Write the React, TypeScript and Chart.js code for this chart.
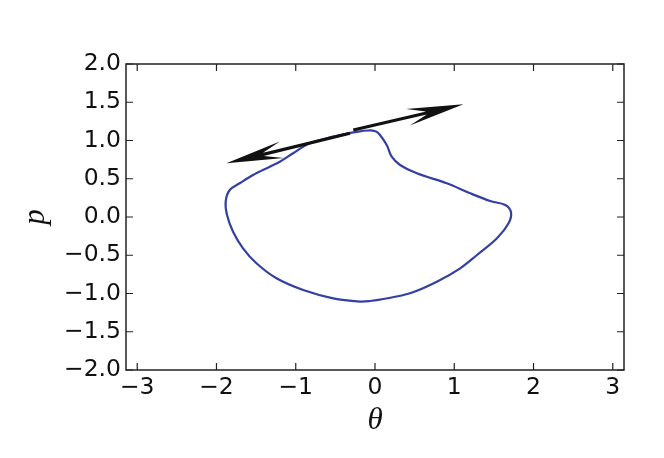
import React, { useEffect, useRef } from "react";
import { Chart, registerables } from "chart.js";

Chart.register(...registerables);

// Closed trajectory in phase space (theta, p)
const thetaValues = [
  -0.274, -0.088, 0.013, 0.063, 0.148, 0.211, 0.316, 0.527, 0.906, 1.201, 1.454, 1.643,
  1.716, 1.685, 1.539, 1.286, 1.075, 0.78, 0.442, 0.105, -0.063, -0.19, -0.527, -0.906,
  -1.243, -1.496, -1.665, -1.791, -1.867, -1.884, -1.833, -1.707, -1.539, -1.327, -1.201,
  -1.033, -0.822, -0.527, -0.274,
];
const pValues = [
  1.107, 1.131, 1.118, 1.072, 0.941, 0.788, 0.68, 0.571, 0.441, 0.31, 0.209, 0.157,
  0.061, -0.082, -0.278, -0.497, -0.671, -0.846, -0.997, -1.072, -1.098, -1.105, -1.063,
  -0.954, -0.801, -0.605, -0.409, -0.192, 0.026, 0.2, 0.353, 0.441, 0.549, 0.658, 0.723,
  0.833, 0.963, 1.05, 1.107,
];

// Two quiver-style arrows (tail -> tip)
const arrowTailTheta = [-0.316, -0.274];
const arrowTailP = [1.094, 1.137];
const arrowTipTheta = [-1.875, 1.116];
const arrowTipP = [0.702, 1.473];

const xTicks = [-3, -2, -1, 0, 1, 2, 3];
const yTicks = [-2.0, -1.5, -1.0, -0.5, 0.0, 0.5, 1.0, 1.5, 2.0];
const xMin = -Math.PI;
const xMax = Math.PI;
const yMin = -2;
const yMax = 2;

const minus = (s: string) => s.replace("-", "\u2212");

const framePlugin = {
  id: "frameTicksArrows",
  afterDatasetsDraw(chart: any) {
    const { ctx, chartArea, scales } = chart;
    const xs = scales.x;
    const ys = scales.y;
    ctx.save();
    // arrows
    ctx.fillStyle = "#111111";
    for (let i = 0; i < arrowTailTheta.length; i++) {
      const x0 = xs.getPixelForValue(arrowTailTheta[i]);
      const y0 = ys.getPixelForValue(arrowTailP[i]);
      const x1 = xs.getPixelForValue(arrowTipTheta[i]);
      const y1 = ys.getPixelForValue(arrowTipP[i]);
      const len = Math.hypot(x1 - x0, y1 - y0);
      const dx = (x1 - x0) / len;
      const dy = (y1 - y0) / len;
      const nx = -dy;
      const ny = dx;
      const hw = 1.6;
      const HL = 57;
      const HW = 8.5;
      const J = 38;
      const pt = (back: number, side: number) => [x1 - dx * back + nx * side, y1 - dy * back + ny * side];
      const poly = [
        [x0 + nx * hw, y0 + ny * hw],
        pt(J, hw),
        pt(HL, HW),
        [x1, y1],
        pt(HL, -HW),
        pt(J, -hw),
        [x0 - nx * hw, y0 - ny * hw],
      ];
      ctx.beginPath();
      ctx.moveTo(poly[0][0], poly[0][1]);
      for (let k = 1; k < poly.length; k++) ctx.lineTo(poly[k][0], poly[k][1]);
      ctx.closePath();
      ctx.fill();
    }
    // frame
    const { left, right, top, bottom } = chartArea;
    ctx.strokeStyle = "#222222";
    ctx.lineWidth = 1.5;
    ctx.strokeRect(left, top, right - left, bottom - top);
    // inward ticks
    ctx.lineWidth = 1.2;
    const tl = 7;
    ctx.beginPath();
    xTicks.forEach((v) => {
      const px = xs.getPixelForValue(v);
      ctx.moveTo(px, bottom);
      ctx.lineTo(px, bottom - tl);
      ctx.moveTo(px, top);
      ctx.lineTo(px, top + tl);
    });
    yTicks.forEach((v) => {
      const py = ys.getPixelForValue(v);
      ctx.moveTo(left, py);
      ctx.lineTo(left + tl, py);
      ctx.moveTo(right, py);
      ctx.lineTo(right - tl, py);
    });
    ctx.stroke();
    ctx.restore();
  },
};

export default function App() {
  const ref = useRef<HTMLCanvasElement | null>(null);
  useEffect(() => {
    if (!ref.current) return;
    const points = thetaValues.map((t, i) => ({ x: t, y: pValues[i] }));
    const tickFont = { family: "'DejaVu Sans', sans-serif", size: 23.5 };
    const chart = new Chart(ref.current, {
      type: "scatter",
      data: {
        datasets: [
          {
            data: points,
            showLine: true,
            borderColor: "#343fa3",
            borderWidth: 2.2,
            pointRadius: 0,
            tension: 0.35,
            fill: false,
          },
        ],
      },
      options: {
        responsive: false,
        animation: false,
        devicePixelRatio: 1,
        layout: { padding: { top: 64, right: 40, left: 0, bottom: 0 } },
        plugins: { legend: { display: false }, tooltip: { enabled: false } },
        scales: {
          x: {
            type: "linear",
            min: xMin,
            max: xMax,
            grid: { display: false, drawTicks: false },
            border: { display: false },
            afterBuildTicks: (s: any) => {
              s.ticks = xTicks.map((v) => ({ value: v }));
            },
            afterFit: (s: any) => {
              s.height = 88;
            },
            ticks: {
              autoSkip: false,
              maxRotation: 0,
              padding: 4,
              color: "#111111",
              font: tickFont,
              callback: (v: any) => minus(String(v)),
            },
            title: {
              display: true,
              text: "θ",
              color: "#111111",
              font: { family: "'Liberation Serif', serif", size: 31, style: "italic" },
              padding: { top: 0, bottom: 19 },
            },
          },
          y: {
            type: "linear",
            min: yMin,
            max: yMax,
            grid: { display: false, drawTicks: false },
            border: { display: false },
            afterBuildTicks: (s: any) => {
              s.ticks = yTicks.map((v) => ({ value: v }));
            },
            afterFit: (s: any) => {
              s.width = 126;
            },
            ticks: {
              autoSkip: false,
              padding: 5,
              color: "#111111",
              font: tickFont,
              callback: (v: any) => minus(Number(v).toFixed(1)),
            },
            title: {
              display: true,
              text: "p",
              color: "#111111",
              font: { family: "'Liberation Serif', serif", size: 31, style: "italic" },
              padding: { top: 17, bottom: 0 },
            },
          },
        },
      },
      plugins: [framePlugin],
    } as any);
    return () => chart.destroy();
  }, []);
  return (
    <div style={{ position: "absolute", left: 0, top: 0, width: 664, height: 458, background: "#ffffff" }}>
      <canvas ref={ref} width={664} height={458} style={{ display: "block" }} />
    </div>
  );
}
